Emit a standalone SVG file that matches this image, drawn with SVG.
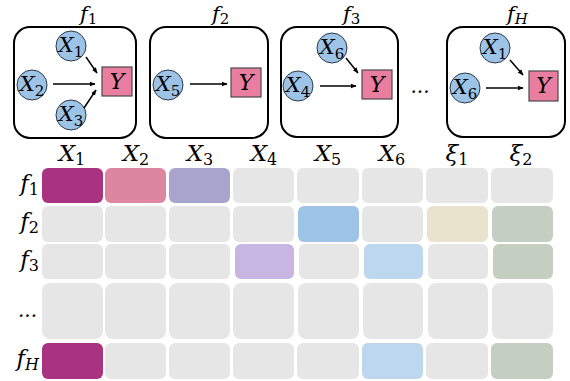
<svg xmlns="http://www.w3.org/2000/svg" width="570" height="381" viewBox="0 0 570 381">
<style>
.frame{fill:#fff;stroke:#000;stroke-width:2}
.var{fill:#9DC3E6;stroke:#2b3a48;stroke-width:1}
.y{fill:#EA7EA0;stroke:#4a4a4a;stroke-width:1.2}
.t{font-family:"DejaVu Serif","Liberation Serif",serif;font-style:italic;fill:#000}
.ts{font-family:"DejaVu Serif","Liberation Serif",serif;font-style:normal}
.nl{font-size:21px}
.hl{font-size:23px}
.tl{font-size:21px}
.cell{fill:#E6E6E6}
.edge{stroke:#000;stroke-width:1.5;fill:none;marker-end:url(#ah)}
</style>
<defs>
<marker id="ah" viewBox="0 0 10 10" refX="9" refY="5" markerWidth="6" markerHeight="6" orient="auto" markerUnits="userSpaceOnUse">
<path d="M0,1 L10,5 L0,9 z" fill="#000"/>
</marker>
</defs>
<rect width="570" height="381" fill="#fff"/>

<g id="titles">
<text class="t tl" x="80" y="21">f<tspan class="ts" font-size="15" dy="3">1</tspan></text>
<text class="t tl" x="212" y="21">f<tspan class="ts" font-size="15" dy="3">2</tspan></text>
<text class="t tl" x="343" y="21">f<tspan class="ts" font-size="15" dy="3">3</tspan></text>
<text class="t tl" x="507" y="21">f<tspan font-size="15" dy="3">H</tspan></text>
</g>

<g id="model_f1">
<rect class="frame" x="14" y="27" width="122" height="111" rx="16"/>
<circle class="var" cx="71" cy="46" r="15"/>
<text class="t nl" x="71" y="52" text-anchor="middle">X<tspan class="ts" font-size="15" dy="5">1</tspan></text>
<circle class="var" cx="32" cy="85" r="15"/>
<text class="t nl" x="32" y="91" text-anchor="middle">X<tspan class="ts" font-size="15" dy="5">2</tspan></text>
<circle class="var" cx="71" cy="115" r="15"/>
<text class="t nl" x="71" y="121" text-anchor="middle">X<tspan class="ts" font-size="15" dy="5">3</tspan></text>
<rect class="y" x="102" y="67" width="30" height="29"/>
<text class="t" font-size="22" x="117" y="89" text-anchor="middle">Y</text>
</g>

<g id="model_f2">
<rect class="frame" x="150" y="27" width="118" height="111" rx="16"/>
<circle class="var" cx="168" cy="85" r="15"/>
<text class="t nl" x="168" y="91" text-anchor="middle">X<tspan class="ts" font-size="15" dy="5">5</tspan></text>
<rect class="y" x="231" y="68" width="30" height="29"/>
<text class="t" font-size="22" x="246" y="90" text-anchor="middle">Y</text>
</g>

<g id="model_f3">
<rect class="frame" x="281" y="27" width="117" height="110" rx="16"/>
<circle class="var" cx="332" cy="48" r="15"/>
<text class="t nl" x="332" y="54" text-anchor="middle">X<tspan class="ts" font-size="15" dy="5">6</tspan></text>
<circle class="var" cx="298" cy="86" r="15"/>
<text class="t nl" x="298" y="92" text-anchor="middle">X<tspan class="ts" font-size="15" dy="5">4</tspan></text>
<rect class="y" x="362" y="70" width="30" height="29"/>
<text class="t" font-size="22" x="377" y="92" text-anchor="middle">Y</text>
</g>

<text class="t" font-size="20" x="420" y="93" text-anchor="middle">...</text>

<g id="model_fH">
<rect class="frame" x="447" y="27" width="118" height="110" rx="16"/>
<circle class="var" cx="495" cy="48" r="15"/>
<text class="t nl" x="495" y="54" text-anchor="middle">X<tspan class="ts" font-size="15" dy="5">1</tspan></text>
<circle class="var" cx="465" cy="88" r="15"/>
<text class="t nl" x="465" y="94" text-anchor="middle">X<tspan class="ts" font-size="15" dy="5">6</tspan></text>
<rect class="y" x="529" y="71" width="29" height="30"/>
<text class="t" font-size="22" x="543.5" y="93" text-anchor="middle">Y</text>
</g>

<g id="connectors">
<line class="edge" x1="53" y1="84" x2="95" y2="84"/>
<line class="edge" x1="86" y1="57" x2="97" y2="73"/>
<line class="edge" x1="84" y1="108" x2="96" y2="90"/>
<line class="edge" x1="190" y1="84" x2="227" y2="84"/>
<line class="edge" x1="320" y1="86" x2="356" y2="86"/>
<line class="edge" x1="346" y1="58" x2="358" y2="73"/>
<line class="edge" x1="486" y1="88" x2="523" y2="88"/>
<line class="edge" x1="510" y1="60" x2="523" y2="75"/>
</g>

<g id="col_headers">
<text class="t hl" x="72" y="161" text-anchor="middle">X<tspan class="ts" font-size="16" dy="4">1</tspan></text>
<text class="t hl" x="136" y="161" text-anchor="middle">X<tspan class="ts" font-size="16" dy="4">2</tspan></text>
<text class="t hl" x="200" y="161" text-anchor="middle">X<tspan class="ts" font-size="16" dy="4">3</tspan></text>
<text class="t hl" x="264" y="161" text-anchor="middle">X<tspan class="ts" font-size="16" dy="4">4</tspan></text>
<text class="t hl" x="328" y="161" text-anchor="middle">X<tspan class="ts" font-size="16" dy="4">5</tspan></text>
<text class="t hl" x="392" y="161" text-anchor="middle">X<tspan class="ts" font-size="16" dy="4">6</tspan></text>
<text class="t hl" x="457" y="161" text-anchor="middle">ξ<tspan class="ts" font-size="16" dy="4">1</tspan></text>
<text class="t hl" x="521" y="161" text-anchor="middle">ξ<tspan class="ts" font-size="16" dy="4">2</tspan></text>
</g>

<g id="row_labels">
<text class="t hl" x="39" y="191" text-anchor="end">f<tspan class="ts" font-size="16" dy="4">1</tspan></text>
<text class="t hl" x="39" y="229" text-anchor="end">f<tspan class="ts" font-size="16" dy="4">2</tspan></text>
<text class="t hl" x="39" y="267" text-anchor="end">f<tspan class="ts" font-size="16" dy="4">3</tspan></text>
<text class="t" font-size="20" x="37" y="317" text-anchor="end">...</text>
<text class="t hl" x="39" y="366" text-anchor="end">f<tspan font-size="16" dy="4">H</tspan></text>
</g>

<g id="matrix">
<rect x="42" y="168" width="61" height="35" rx="6" fill="#A93281"/>
<rect x="105" y="168" width="61" height="35" rx="6" fill="#DC86A0"/>
<rect x="169" y="168" width="61" height="35" rx="6" fill="#A8A4CE"/>
<rect class="cell" x="233" y="168" width="61" height="35" rx="6"/>
<rect class="cell" x="297" y="168" width="62" height="35" rx="6"/>
<rect class="cell" x="362" y="168" width="61" height="35" rx="6"/>
<rect class="cell" x="426" y="168" width="62" height="35" rx="6"/>
<rect class="cell" x="491" y="168" width="62" height="35" rx="6"/>
<rect class="cell" x="42" y="206" width="61" height="36" rx="6"/>
<rect class="cell" x="105" y="206" width="61" height="36" rx="6"/>
<rect class="cell" x="169" y="206" width="61" height="36" rx="6"/>
<rect class="cell" x="233" y="206" width="61" height="36" rx="6"/>
<rect x="298" y="206" width="61" height="36" rx="6" fill="#9DC3E6"/>
<rect class="cell" x="362" y="206" width="61" height="36" rx="6"/>
<rect x="427" y="206" width="61" height="36" rx="6" fill="#E9E2CC"/>
<rect x="492" y="206" width="61" height="36" rx="6" fill="#C4CFC2"/>
<rect class="cell" x="42" y="244" width="61" height="35" rx="6"/>
<rect class="cell" x="105" y="244" width="61" height="35" rx="6"/>
<rect class="cell" x="169" y="244" width="61" height="35" rx="6"/>
<rect x="235" y="244" width="59" height="35" rx="6" fill="#C8B6E2"/>
<rect class="cell" x="299" y="244" width="60" height="35" rx="6"/>
<rect x="364" y="244" width="59" height="35" rx="6" fill="#BDD7EE"/>
<rect class="cell" x="428" y="244" width="60" height="35" rx="6"/>
<rect x="493" y="244" width="60" height="35" rx="6" fill="#C4CFC2"/>
<rect class="cell" x="42" y="283" width="61" height="56" rx="8"/>
<rect class="cell" x="105" y="283" width="61" height="56" rx="8"/>
<rect class="cell" x="169" y="283" width="61" height="56" rx="8"/>
<rect class="cell" x="233" y="283" width="61" height="56" rx="8"/>
<rect class="cell" x="298" y="283" width="61" height="56" rx="8"/>
<rect class="cell" x="363" y="283" width="60" height="56" rx="8"/>
<rect class="cell" x="428" y="283" width="60" height="56" rx="8"/>
<rect class="cell" x="492" y="283" width="61" height="56" rx="8"/>
<rect x="42" y="343" width="61" height="36" rx="6" fill="#A93281"/>
<rect class="cell" x="105" y="343" width="61" height="36" rx="6"/>
<rect class="cell" x="169" y="343" width="61" height="36" rx="6"/>
<rect class="cell" x="233" y="343" width="61" height="36" rx="6"/>
<rect class="cell" x="297" y="343" width="62" height="36" rx="6"/>
<rect x="362" y="343" width="61" height="36" rx="6" fill="#BDD7EE"/>
<rect class="cell" x="426" y="343" width="62" height="36" rx="6"/>
<rect x="491" y="343" width="62" height="36" rx="6" fill="#C4CFC2"/>
</g>
</svg>
